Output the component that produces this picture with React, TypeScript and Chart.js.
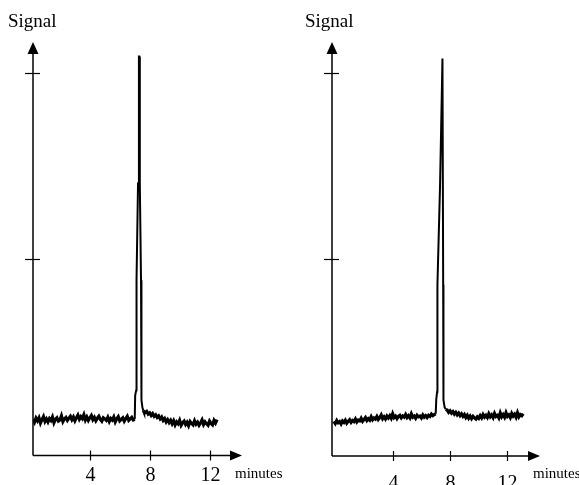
import { useEffect, useRef } from "react";
import { Chart, registerables } from "chart.js";

Chart.register(...registerables);

// ---- shared axis data ----
const xTickValues = [4, 8, 12];
const xTickLabels = ["4", "8", "12"];
const yTickValues = [50, 100];
const xAxisTitle = "minutes";
const yAxisTitle = "Signal";
const sampleStep = 0.1; // minutes between baseline samples

// ---- left chromatogram ----
const leftPreStart = 0.2;
const leftPre = [
  7.2, 6.4, 7.5, 6.8, 7.6, 6.2, 7.1, 7.9, 6.6, 7.3,
  6.5, 7.4, 6.9, 7.8, 6.3, 7.2, 7.6, 6.7, 7.0, 8.1,
  6.6, 7.3, 7.7, 6.9, 7.5, 8.0, 7.1, 7.8, 6.8, 7.6,
  8.3, 7.2, 7.9, 7.4, 8.4, 7.0, 7.8, 6.9, 7.6, 8.2,
  7.1, 7.7, 6.8, 7.5, 8.0, 7.2, 6.7, 7.6, 7.3, 6.9,
  7.7, 6.6, 7.4, 7.0, 7.8, 6.5, 7.3, 7.9, 6.8, 7.2,
  7.6, 6.7, 7.4, 8.0, 6.9, 7.3, 7.7, 7.0,
];
const leftPeakTime = [7.0, 7.03, 7.1, 7.12, 7.22, 7.28, 7.3, 7.34, 7.42, 7.45, 7.52, 7.58];
const leftPeakSignal = [7.2, 13.6, 15.0, 44.4, 70.3, 104.3, 104.3, 70.3, 44.4, 12.3, 10.2, 9.6];
const leftPostStart = 7.6;
const leftPost = [
  9.4, 9.0, 9.3, 8.6, 8.9, 8.2, 8.7, 8.0, 8.4, 7.7,
  8.1, 7.3, 7.8, 6.9, 7.4, 6.5, 7.1, 6.3, 6.9, 6.0,
  6.8, 5.7, 6.5, 6.0, 6.9, 5.6, 6.3, 6.7, 5.8, 6.4,
  5.5, 6.6, 6.1, 5.7, 6.8, 5.9, 6.4, 5.6, 6.2, 7.0,
  5.8, 6.5, 6.0, 5.6, 6.7, 6.1, 5.7, 6.9, 6.2, 7.1,
];

// ---- right chromatogram ----
const rightPreStart = -0.1;
const rightPre = [
  6.6, 6.0, 6.8, 6.2, 6.5, 5.9, 6.7, 6.3, 6.9, 6.1,
  6.6, 7.0, 6.3, 6.8, 6.5, 7.2, 6.4, 6.9, 6.7, 7.4,
  6.6, 7.1, 7.6, 6.8, 7.3, 6.9, 7.8, 7.0, 7.5, 7.2,
  7.9, 7.1, 7.6, 8.3, 7.3, 7.8, 7.2, 8.0, 7.5, 8.1,
  7.4, 8.6, 7.6, 8.0, 7.3, 7.9, 8.2, 7.5, 8.0, 7.7,
  8.4, 7.6, 8.1, 7.5, 8.6, 7.7, 8.0, 7.4, 8.2, 7.8,
  8.0, 7.5, 8.3, 7.7, 8.1, 7.6, 8.2, 7.9, 8.5, 8.1, 8.4,
];
const rightPeakTime = [7.0, 7.04, 7.1, 7.12, 7.3, 7.42, 7.47, 7.5, 7.52, 7.54, 7.62, 7.7];
const rightPeakSignal = [8.6, 12.6, 14.5, 43.2, 69.4, 93.3, 103.8, 103.8, 43.2, 12.3, 10.4, 9.8];
const rightPostStart = 7.8;
const rightPost = [
  9.6, 9.0, 9.4, 8.8, 9.2, 8.5, 9.0, 8.3, 8.8, 8.1,
  8.6, 7.9, 8.4, 7.6, 8.2, 7.4, 8.0, 7.3, 7.9, 7.5,
  7.2, 7.8, 7.4, 8.1, 7.5, 8.4, 7.7, 8.2, 7.6, 8.6,
  7.8, 8.3, 7.6, 8.7, 7.9, 8.2, 7.5, 8.8, 7.8, 8.4,
  7.7, 8.9, 7.9, 8.3, 7.6, 8.7, 8.0, 8.5, 7.7, 8.9, 7.8, 8.4, 8.1, 8.6,
];

type Pt = { x: number; y: number };

function gridSeries(start: number, values: number[]): Pt[] {
  return values.map((v, i) => ({ x: +(start + i * sampleStep).toFixed(3), y: v }));
}
function pairSeries(times: number[], values: number[]): Pt[] {
  return times.map((t, i) => ({ x: t, y: values[i] }));
}

type PanelCfg = {
  left: number;
  width: number;
  padding: { left: number; right: number; top: number; bottom: number };
  xMin: number;
  xMax: number;
  yMin: number;
  yMax: number;
  signalX: number;
  minutesX: number;
  labelBaseline: number;
  pre: Pt[];
  peak: Pt[];
  post: Pt[];
};

const SERIF = "'Liberation Serif', 'DejaVu Serif', serif";

const axesPlugin = (cfg: PanelCfg) => ({
  id: "arrowAxes",
  afterDraw(chart: any) {
    const { ctx, chartArea, scales } = chart;
    const { left, right, top, bottom } = chartArea;
    const xs = scales.x;
    const ys = scales.y;
    ctx.save();
    ctx.strokeStyle = "#000";
    ctx.fillStyle = "#000";
    ctx.lineWidth = 1.5;
    // y axis
    ctx.beginPath();
    ctx.moveTo(left, bottom);
    ctx.lineTo(left, top + 8);
    ctx.stroke();
    ctx.beginPath();
    ctx.moveTo(left, top);
    ctx.lineTo(left - 5.5, top + 12);
    ctx.lineTo(left + 5.5, top + 12);
    ctx.closePath();
    ctx.fill();
    // x axis
    ctx.beginPath();
    ctx.moveTo(left, bottom);
    ctx.lineTo(right - 8, bottom);
    ctx.stroke();
    ctx.beginPath();
    ctx.moveTo(right, bottom);
    ctx.lineTo(right - 12, bottom - 5);
    ctx.lineTo(right - 12, bottom + 5);
    ctx.closePath();
    ctx.fill();
    // y ticks
    ctx.lineWidth = 1.2;
    yTickValues.forEach((v) => {
      const py = Math.round(ys.getPixelForValue(v)) + 0.5;
      ctx.beginPath();
      ctx.moveTo(left - 8, py);
      ctx.lineTo(left + 7, py);
      ctx.stroke();
    });
    // x ticks + labels
    ctx.font = `20px ${SERIF}`;
    ctx.textAlign = "center";
    ctx.textBaseline = "alphabetic";
    xTickValues.forEach((v, i) => {
      const px = Math.round(xs.getPixelForValue(v)) + 0.5;
      ctx.beginPath();
      ctx.moveTo(px, bottom - 5);
      ctx.lineTo(px, bottom + 5);
      ctx.stroke();
      ctx.fillText(xTickLabels[i], px, cfg.labelBaseline);
    });
    // titles
    ctx.textAlign = "left";
    ctx.font = `15px ${SERIF}`;
    ctx.fillText(xAxisTitle, cfg.minutesX, 478);
    ctx.font = `19px ${SERIF}`;
    ctx.fillText(yAxisTitle, cfg.signalX, 27);
    ctx.restore();
  },
});

function Panel({ cfg }: { cfg: PanelCfg }) {
  const ref = useRef<HTMLCanvasElement | null>(null);
  useEffect(() => {
    if (!ref.current) return;
    const base = { borderColor: "#000", pointRadius: 0, tension: 0, fill: false };
    const chart = new Chart(ref.current, {
      type: "line",
      data: {
        datasets: [
          { ...base, data: [...cfg.pre, cfg.peak[0]], borderWidth: 3.2 },
          { ...base, data: cfg.peak, borderWidth: 2 },
          { ...base, data: [cfg.peak[cfg.peak.length - 1], ...cfg.post], borderWidth: 3.2 },
        ],
      },
      options: {
        animation: false,
        responsive: false,
        layout: { padding: cfg.padding },
        plugins: { legend: { display: false }, tooltip: { enabled: false } },
        scales: {
          x: { type: "linear", display: false, min: cfg.xMin, max: cfg.xMax },
          y: { type: "linear", display: false, min: cfg.yMin, max: cfg.yMax },
        },
      },
      plugins: [axesPlugin(cfg)],
    });
    return () => chart.destroy();
  }, [cfg]);
  return (
    <canvas
      ref={ref}
      width={cfg.width}
      height={485}
      style={{ position: "absolute", left: cfg.left, top: 0, width: cfg.width, height: 485 }}
    />
  );
}

const leftCfg: PanelCfg = {
  left: 0,
  width: 290,
  padding: { left: 33, right: 48, top: 42, bottom: 29.5 },
  xMin: 0.2,
  xMax: 14.17,
  yMin: -2.5,
  yMax: 108.2,
  signalX: 8,
  minutesX: 235,
  labelBaseline: 481,
  pre: gridSeries(leftPreStart, leftPre),
  peak: pairSeries(leftPeakTime, leftPeakSignal),
  post: gridSeries(leftPostStart, leftPost),
};

const rightCfg: PanelCfg = {
  left: 290,
  width: 289,
  padding: { left: 42, right: 39, top: 42, bottom: 29 },
  xMin: -0.23,
  xMax: 14.27,
  yMin: -2.7,
  yMax: 108.2,
  signalX: 15,
  minutesX: 243,
  labelBaseline: 489,
  pre: gridSeries(rightPreStart, rightPre),
  peak: pairSeries(rightPeakTime, rightPeakSignal),
  post: gridSeries(rightPostStart, rightPost),
};

export default function App() {
  return (
    <div style={{ position: "absolute", left: 0, top: 0, width: 579, height: 485, background: "#fff", overflow: "hidden" }}>
      <Panel cfg={leftCfg} />
      <Panel cfg={rightCfg} />
    </div>
  );
}
